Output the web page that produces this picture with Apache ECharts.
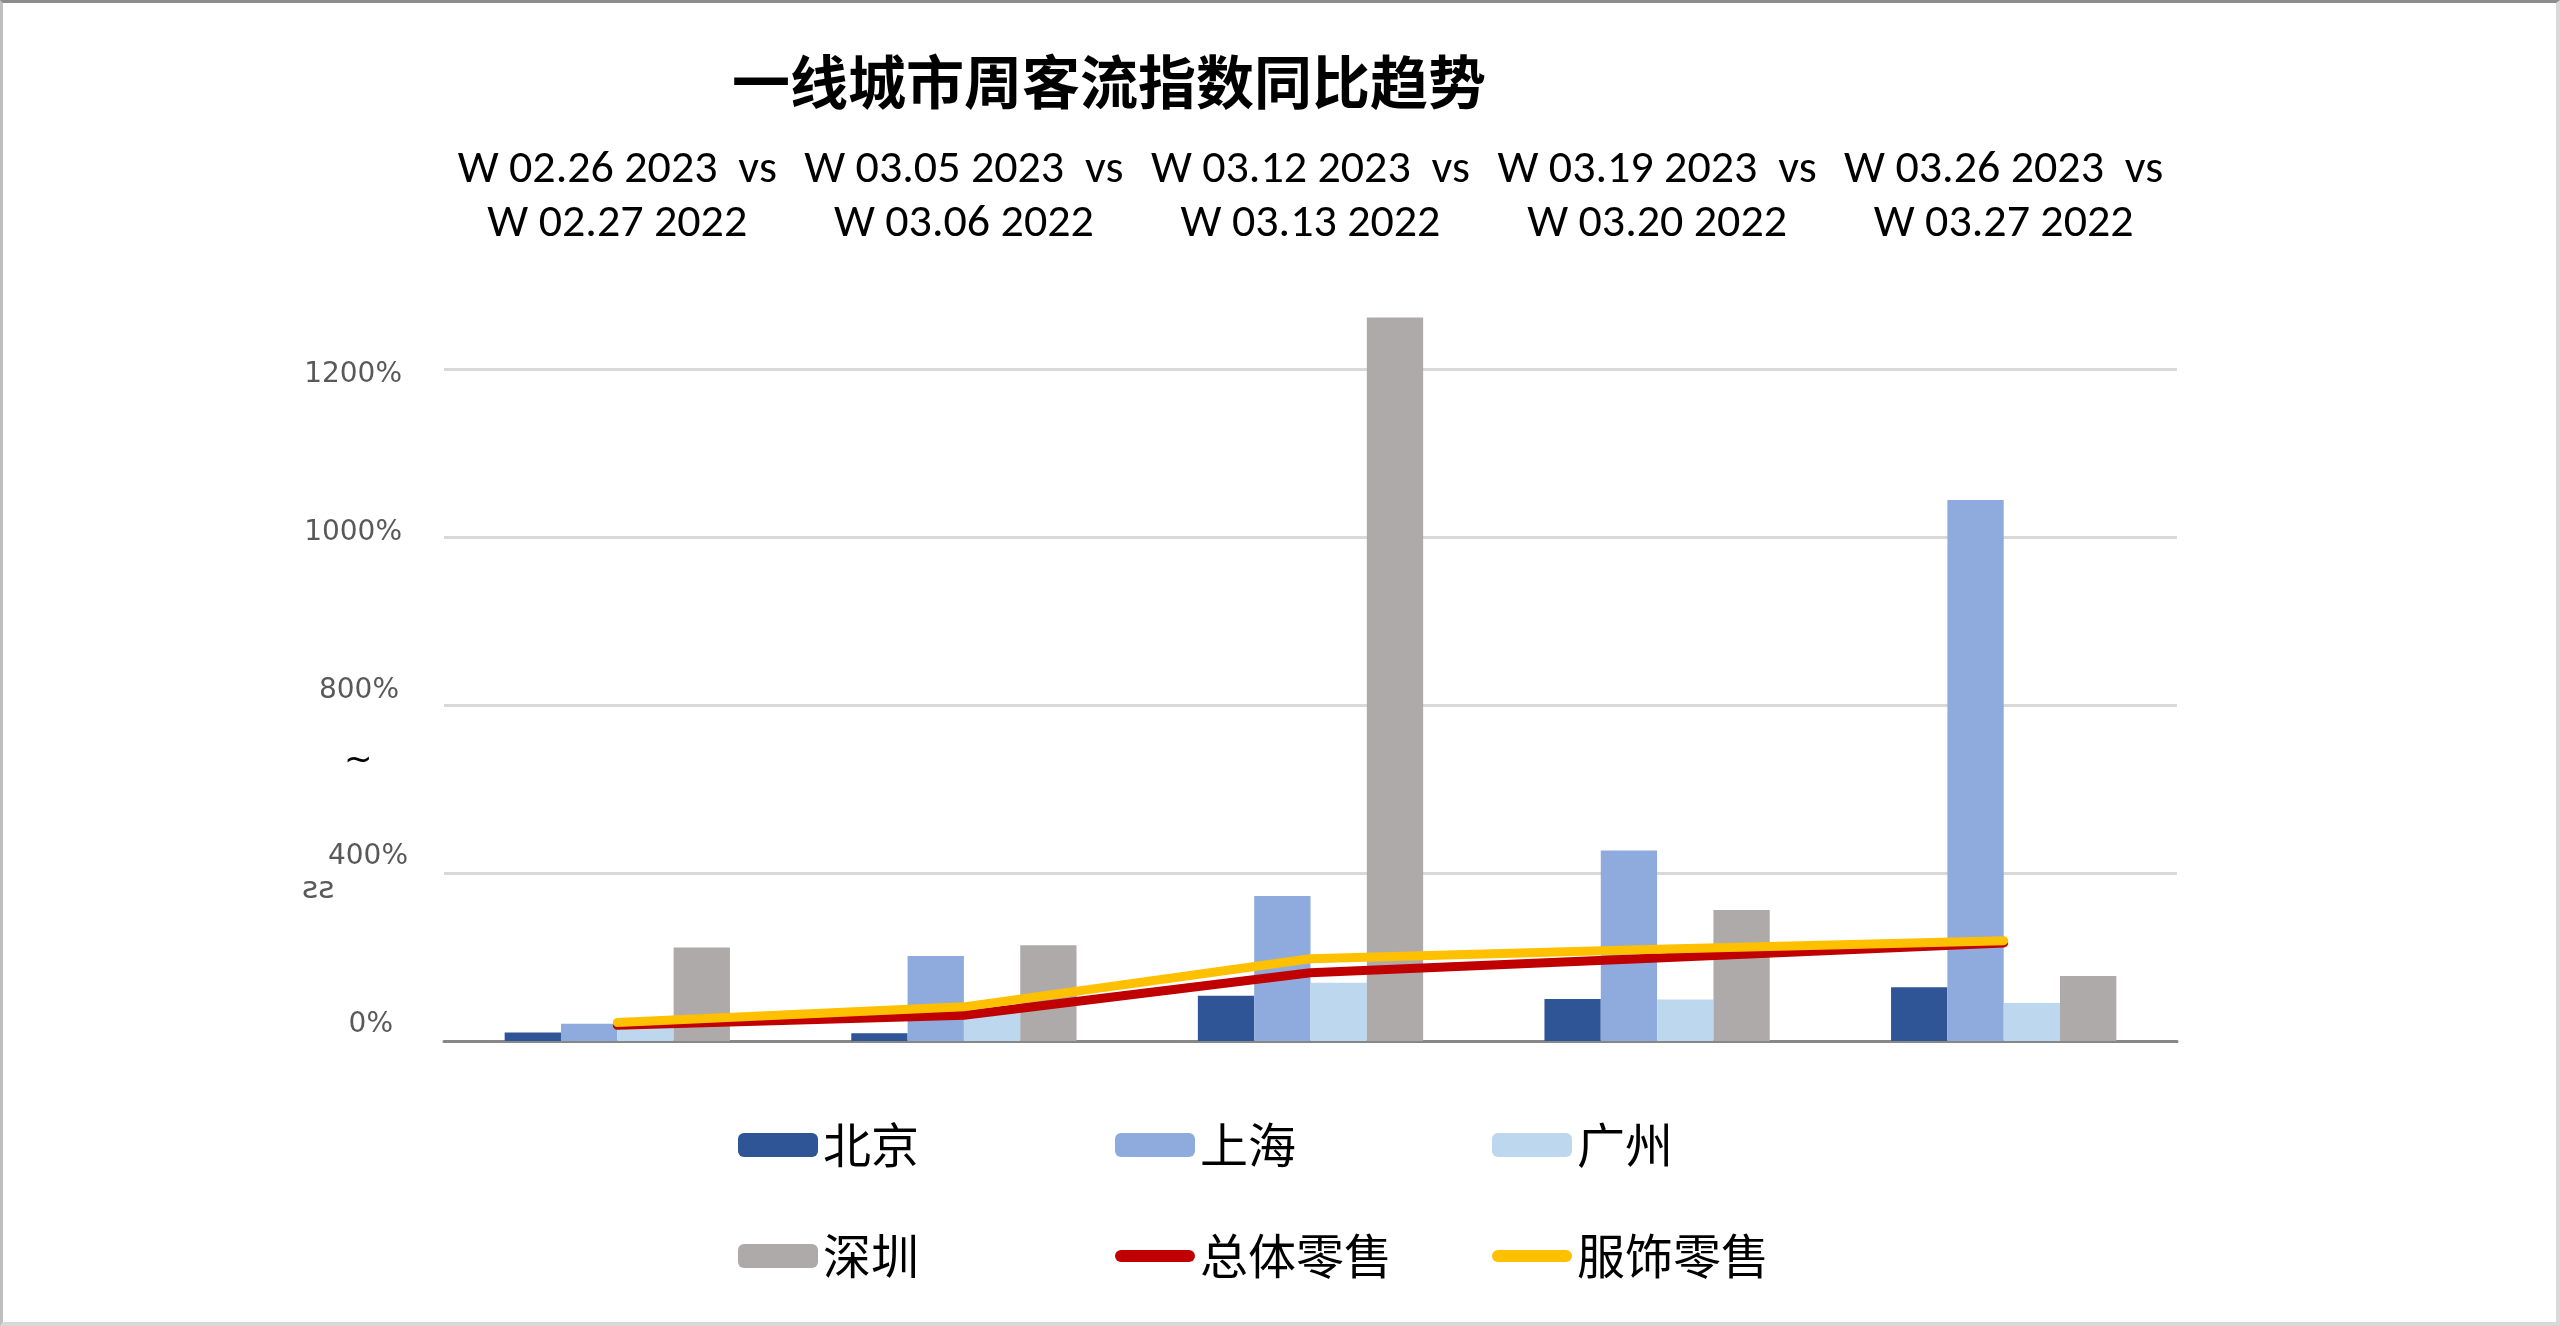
<!DOCTYPE html>
<html>
<head>
<meta charset="utf-8">
<style>
  html, body { margin: 0; padding: 0; background: #fff; }
  #chart { width: 2560px; height: 1326px; }
  #frame { position: absolute; left: 0; top: 0; width: 2560px; height: 1326px; box-sizing: border-box;
           border-top: 3px solid #8c8c8c; border-left: 3px solid #bfbfbf; border-right: 4px solid #d9d9d9; border-bottom: 4px solid #d9d9d9; pointer-events: none; }
</style>
<script src="https://cdn.jsdelivr.net/npm/echarts@6/dist/echarts.min.js"></script>
</head>
<body>
<div id="chart"></div>
<div id="frame"></div>
<script>
const titleText = '一线城市周客流指数同比趋势';
const categories = [
  'W 02.26 2023  vs\nW 02.27 2022',
  'W 03.05 2023  vs\nW 03.06 2022',
  'W 03.12 2023  vs\nW 03.13 2022',
  'W 03.19 2023  vs\nW 03.20 2022',
  'W 03.26 2023  vs\nW 03.27 2022'
];
const tickLabels = ['0%', '400%', '800%', '1000%', '1200%'];
const beijing = [15, 14, 81, 75, 96];
const shanghai = [31, 152, 259, 340, 966];
const guangzhou = [25, 55, 104, 74, 68];
const shenzhen = [167, 171, 1292, 234, 116];
const totalRetail = [28, 46, 122, 148, 175];
const apparelRetail = [33, 61, 147, 164, 179];

const chart = echarts.init(document.getElementById('chart'));

// per-tick label nudges (original labels were not exactly on the gridlines)
const tickRich = {
  t0: { padding: [0, 15, 32, 0] },
  t1: { padding: [0, 0, 32, 0] },
  t2: { padding: [0, 9, 28, 0] },
  t3: { padding: [0, 6, 8, 0] },
  t4: { padding: [12, 6, 0, 0] }
};
Object.keys(tickRich).forEach(k => Object.assign(tickRich[k], {
  fontFamily: 'DejaVu Sans', fontSize: 28, color: '#595959'
}));

const lineIcon = 'path://M0,0 M80,24 M6,6 L74,6 A6,6 0 0 1 74,18 L6,18 A6,6 0 0 1 6,6 Z';

chart.setOption({
  animation: false,
  backgroundColor: '#ffffff',
  title: {
    text: titleText,
    left: 727, top: 48,
    textStyle: { fontFamily: 'Noto Sans CJK SC', fontWeight: 'bold', fontSize: 58, color: '#000' }
  },
  legend: [
    {
      data: ['北京', '上海', '广州'],
      left: 733, top: 1112, orient: 'horizontal',
      itemWidth: 80, itemHeight: 24, itemGap: 92,
      textStyle: { fontFamily: 'Noto Sans CJK SC', fontSize: 48, color: '#000', width: 200, lineHeight: 56 }
    },
    {
      data: [
        { name: '深圳' },
        { name: '总体零售', icon: lineIcon },
        { name: '服饰零售', icon: lineIcon }
      ],
      left: 733, top: 1223, orient: 'horizontal',
      itemWidth: 80, itemHeight: 24, itemGap: 92,
      textStyle: { fontFamily: 'Noto Sans CJK SC', fontSize: 48, color: '#000', width: 200, lineHeight: 56 }
    }
  ],
  grid: { left: 444, right: 383, top: 369, bottom: 285 },
  xAxis: [
    {
      type: 'category', data: categories, position: 'top',
      axisLine: { show: false }, axisTick: { show: false },
      axisLabel: {
        margin: 118, lineHeight: 54, interval: 0,
        fontFamily: 'Liberation Sans Narrow, Carlito, Lato', fontSize: 46, color: '#000'
      }
    },
    {
      type: 'category', data: categories, position: 'bottom',
      axisLine: { show: true, lineStyle: { color: '#878787', width: 3 } },
      axisTick: { show: false }, axisLabel: { show: false }
    }
  ],
  yAxis: {
    type: 'value', min: 0, max: 1200, interval: 300,
    axisLine: { show: false }, axisTick: { show: false },
    splitLine: { lineStyle: { color: '#d9d9d9', width: 3 } },
    axisLabel: {
      margin: 36,
      formatter: v => {
        const i = Math.round(v / 300);
        return '{t' + i + '|' + tickLabels[i] + '}';
      },
      rich: tickRich
    }
  },
  graphic: [
    { type: 'text', left: 344, top: 744, style: { text: '~', fontFamily: 'DejaVu Sans', fontSize: 34, fill: '#000' } },
    { type: 'text', left: 302, top: 874, style: { text: 'ƨƨ', fontFamily: 'DejaVu Sans', fontSize: 31, fill: '#595959' } }
  ],
  series: [
    { name: '北京', type: 'bar', data: beijing, clip: false, barGap: '0%', barCategoryGap: '35%', itemStyle: { color: '#2F5597' } },
    { name: '上海', type: 'bar', data: shanghai, clip: false, barGap: '0%', barCategoryGap: '35%', itemStyle: { color: '#8FAADC' } },
    { name: '广州', type: 'bar', data: guangzhou, clip: false, barGap: '0%', barCategoryGap: '35%', itemStyle: { color: '#BDD7EE' } },
    { name: '深圳', type: 'bar', data: shenzhen, clip: false, barGap: '0%', barCategoryGap: '35%', itemStyle: { color: '#AEAAAA' } },
    { name: '总体零售', type: 'line', data: totalRetail, symbol: 'none', z: 5,
      lineStyle: { color: '#C00000', width: 9, cap: 'round', join: 'round' }, itemStyle: { color: '#C00000' } },
    { name: '服饰零售', type: 'line', data: apparelRetail, symbol: 'none', z: 6,
      lineStyle: { color: '#FFC000', width: 9, cap: 'round', join: 'round' }, itemStyle: { color: '#FFC000' } }
  ]
});
</script>
</body>
</html>
